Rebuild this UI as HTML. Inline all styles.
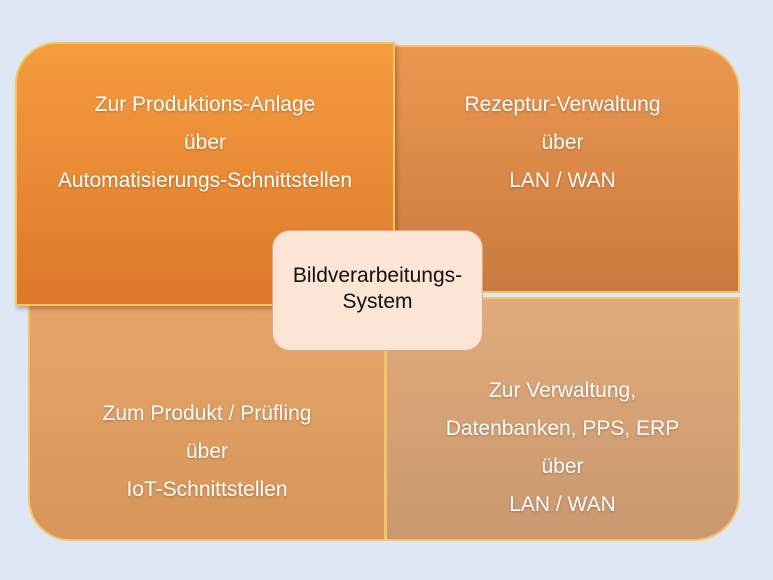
<!DOCTYPE html>
<html><head><meta charset="utf-8"><style>
body{margin:0;width:773px;height:580px;background:#dfe7f4;position:relative;overflow:hidden;font-family:"Liberation Sans",sans-serif}
.b{position:absolute;box-sizing:border-box;color:#fff;font-size:21px;text-align:center;line-height:38px;text-shadow:0 1px 2px rgba(0,0,0,.25)}
#tr{left:385px;top:45px;width:355px;height:248px;border-radius:0 46px 0 0;background:linear-gradient(#eb9850,#c97a3f);border:2px solid #f3c46a;padding-top:39px}
#bl{left:28px;top:295px;width:358px;height:246px;border-radius:0 0 0 42px;background:linear-gradient(#e6a56a,#d79659);border:2px solid #f3c46a;padding-top:98px}
#br{left:385px;top:297px;width:355px;height:244px;border-radius:0 0 46px 0;background:linear-gradient(#e1ab7a,#c99870);border:2px solid #f3c46a;padding-top:73px}
#tl{left:15px;top:42px;width:380px;height:264px;border-radius:42px 0 0 0;background:linear-gradient(#f59c3f,#dd782b);border:2px solid #f7c45a;padding-top:42px;box-shadow:2px 3px 4px rgba(0,0,0,.25)}
#c{left:272px;top:230px;width:211px;height:121px;border-radius:18px;background:#fde5d6;border:1.5px solid #d9a98a;color:#111;text-shadow:none;line-height:26px;padding-top:32px;font-size:21px}
</style></head><body>
<div class="b" id="tr">Rezeptur-Verwaltung<br>über<br>LAN / WAN</div>
<div class="b" id="bl">Zum Produkt / Prüfling<br>über<br>IoT-Schnittstellen</div>
<div class="b" id="br">Zur Verwaltung,<br>Datenbanken, PPS, ERP<br>über<br>LAN / WAN</div>
<div class="b" id="tl">Zur Produktions-Anlage<br>über<br>Automatisierungs-Schnittstellen</div>
<div class="b" id="c">Bildverarbeitungs-<br>System</div>
</body></html>
